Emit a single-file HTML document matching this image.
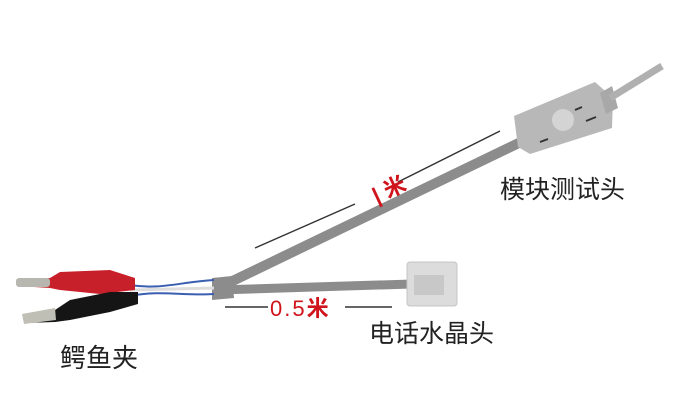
<!DOCTYPE html>
<html><head><meta charset="utf-8"><style>
html,body{margin:0;padding:0;background:#fff;}
svg{display:block}
text{font-family:"Liberation Sans","Noto Sans CJK SC",sans-serif;}
</style></head><body>
<svg width="699" height="419" viewBox="0 0 699 419" xmlns="http://www.w3.org/2000/svg">
<rect width="699" height="419" fill="#fff"/>
<line x1="218" y1="288" x2="525" y2="140" stroke="#8c8c8c" stroke-width="10"/>
<line x1="218" y1="290" x2="412" y2="284" stroke="#8c8c8c" stroke-width="9"/>
<path d="M212 278 L232 276 L234 298 L212 300 Z" fill="#8c8c8c"/>
<path d="M130 285 C160 290 180 282 214 280" stroke="#3a5fb0" stroke-width="2" fill="none"/>
<path d="M130 296 C160 290 185 296 214 294" stroke="#3a5fb0" stroke-width="2" fill="none"/>
<path d="M130 290 L214 288" stroke="#ddd" stroke-width="3" fill="none"/>
<path d="M18 281 L50 278 L60 272 L110 270 L135 278 L135 290 L100 294 L60 290 L50 288 L18 286 Z" fill="#c8202a"/>
<rect x="16" y="278" width="34" height="9" rx="3" fill="#b7b7b0"/>
<path d="M25 318 L55 310 L70 300 L110 292 L138 292 L138 304 L110 312 L70 320 L55 322 L25 323 Z" fill="#151515"/>
<path d="M22 314 L55 308 L56 320 L24 324 Z" fill="#c0bfb5"/>
<path d="M514 116 L595 82 L613 98 L612 128 L530 154 L518 147 Z" fill="#b8b8b8"/>
<path d="M600 93 L612 86 L618 108 L606 114 Z" fill="#a8a8a8"/>
<line x1="610" y1="98" x2="662" y2="66" stroke="#b0b0b0" stroke-width="7"/>
<circle cx="563" cy="120" r="11" fill="#d4d4d4"/>
<line x1="540" y1="142" x2="548" y2="139" stroke="#333" stroke-width="2"/>
<line x1="575" y1="110" x2="582" y2="107" stroke="#333" stroke-width="2"/>
<line x1="586" y1="121" x2="596" y2="117" stroke="#333" stroke-width="2"/>
<rect x="407" y="262" width="50" height="44" rx="3" fill="#dcdcdc" stroke="#c4c4c4"/>
<rect x="414" y="275" width="30" height="20" fill="#c8c8c8"/>
<line x1="255" y1="248" x2="355" y2="204" stroke="#333" stroke-width="1.5"/>
<line x1="398" y1="182" x2="500" y2="131" stroke="#333" stroke-width="1.5"/>
<text x="372" y="202" font-size="22" fill="#d0141c" font-weight="bold" transform="rotate(-25 378 192)">| 米</text>
<line x1="225" y1="307" x2="268" y2="307" stroke="#333" stroke-width="1.5"/>
<line x1="345" y1="307" x2="392" y2="307" stroke="#333" stroke-width="1.5"/>
<text x="270" y="316" font-size="22" fill="#d0141c" letter-spacing="2">0.5<tspan font-weight="bold">米</tspan></text>
<text x="500" y="198" font-size="25" fill="#222">模块测试头</text>
<text x="369" y="342" font-size="25" fill="#222">电话水晶头</text>
<text x="60" y="367" font-size="26" fill="#222">鳄鱼夹</text>
</svg>
</body></html>
